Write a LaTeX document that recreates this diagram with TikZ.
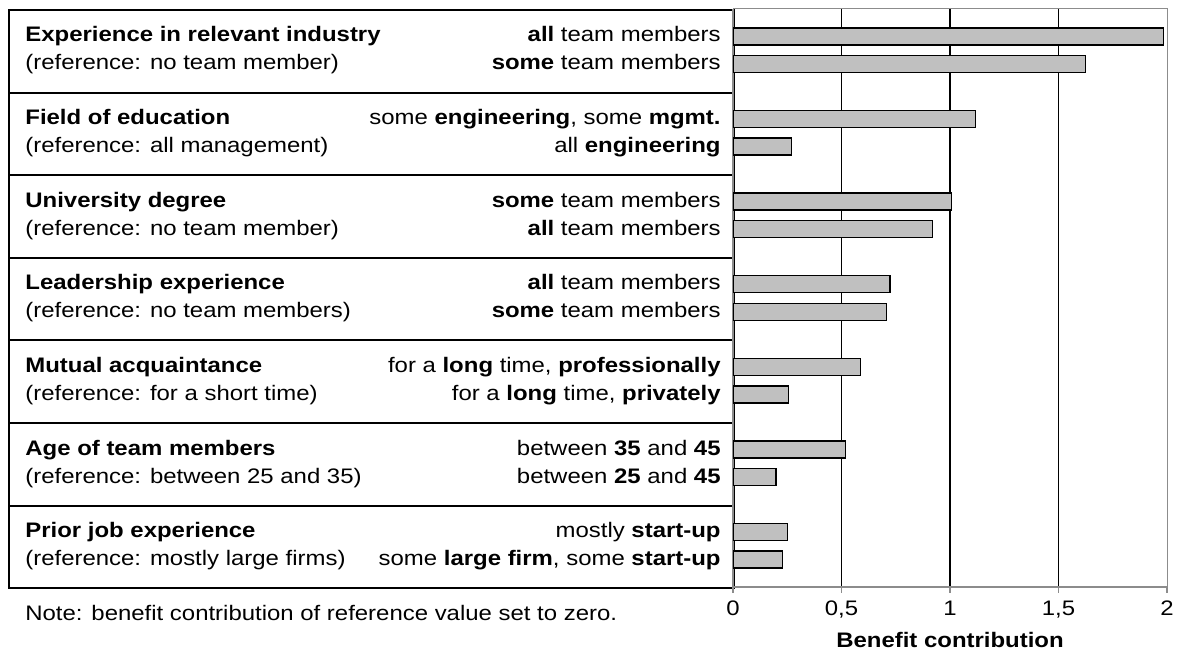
\documentclass[tikz,border=0pt]{standalone}
\usepackage{fontspec}
\setmainfont{Liberation Sans}[FakeStretch=1.14]
\usepackage{tikz}
\definecolor{barfill}{HTML}{C0C0C0}
\definecolor{axisgray}{HTML}{8C8C8C}
\newcommand{\contrib}[2]{ node[benefitbar, minimum width = {#1*108.5pt}, name={#2}] {}}
\tikzset{benefitbar/.style={rectangle, draw, fill=barfill, anchor=west,
  inner sep=0pt, minimum height = 8.5pt, line width = .7pt}}
\tikzset{factorrow/.style={rectangle, draw, line width = 1pt, anchor=north west,
  inner sep=0pt, minimum width = 362.5pt, minimum height = 41.3pt}}
\tikzset{txt/.style={inner sep=0pt, font=\fontsize{10.5}{12}\selectfont}}
\tikzset{head/.style={txt, anchor=base west, font=\fontsize{10.5}{12}\selectfont\bfseries}}
\tikzset{refl/.style={txt, anchor=base west}}
\tikzset{level/.style={txt, anchor=base east}}
\tikzset{ticklabel/.style={txt, anchor=base}}

\begin{document}
\begin{tikzpicture}[x=0.5pt, y=-0.5pt]
  \useasboundingbox (0,0) rectangle (1178,652);

  % table rows
  \node[factorrow] (factor1) at (8,9) {};
  \node[factorrow] (factor2) at (8,91.6) {};
  \node[factorrow] (factor3) at (8,174.2) {};
  \node[factorrow] (factor4) at (8,256.8) {};
  \node[factorrow] (factor5) at (8,339.4) {};
  \node[factorrow] (factor6) at (8,422) {};
  \node[factorrow] (factor7) at (8,504.6) {};

  \node[head] (head1) at (25,42) {Experience in relevant industry};
  \node[refl] (ref1) at (25,70) {(reference: no team member)};
  \node[level] (lvl1a) at (721,42) {\textbf{all} team members};
  \node[level] (lvl1b) at (721,70) {\textbf{some} team members};

  \node[head] (head2) at (25,124.6) {Field of education};
  \node[refl] (ref2) at (25,152.6) {(reference: all management)};
  \node[level] (lvl2a) at (721,124.6) {some \textbf{engineering}, some \textbf{mgmt.}};
  \node[level] (lvl2b) at (721,152.6) {all \textbf{engineering}};

  \node[head] (head3) at (25,207.2) {University degree};
  \node[refl] (ref3) at (25,235.2) {(reference: no team member)};
  \node[level] (lvl3a) at (721,207.2) {\textbf{some} team members};
  \node[level] (lvl3b) at (721,235.2) {\textbf{all} team members};

  \node[head] (head4) at (25,289.8) {Leadership experience};
  \node[refl] (ref4) at (25,317.8) {(reference: no team members)};
  \node[level] (lvl4a) at (721,289.8) {\textbf{all} team members};
  \node[level] (lvl4b) at (721,317.8) {\textbf{some} team members};

  \node[head] (head5) at (25,372.4) {Mutual acquaintance};
  \node[refl] (ref5) at (25,400.4) {(reference: for a short time)};
  \node[level] (lvl5a) at (721,372.4) {for a \textbf{long} time, \textbf{professionally}};
  \node[level] (lvl5b) at (721,400.4) {for a \textbf{long} time, \textbf{privately}};

  \node[head] (head6) at (25,455) {Age of team members};
  \node[refl] (ref6) at (25,483) {(reference: between 25 and 35)};
  \node[level] (lvl6a) at (721,455) {between \textbf{35} and \textbf{45}};
  \node[level] (lvl6b) at (721,483) {between \textbf{25} and \textbf{45}};

  \node[head] (head7) at (25,537.6) {Prior job experience};
  \node[refl] (ref7) at (25,565.6) {(reference: mostly large firms)};
  \node[level] (lvl7a) at (721,537.6) {mostly \textbf{start-up}};
  \node[level] (lvl7b) at (721,565.6) {some \textbf{large firm}, some \textbf{start-up}};

  \node[refl] (note) at (25,620) {Note: benefit contribution of reference value set to zero.};

  % grid and frame
  \draw[line width=.6pt] (841.5,9) -- (841.5,587);
  \draw[line width=.6pt] (950,9) -- (950,587);
  \draw[line width=.6pt] (1058.5,9) -- (1058.5,587);
  \draw[axisgray, line width=.5pt] (733,9) -- (1167,9) -- (1167,587);
  \draw[axisgray, line width=.6pt] (733,9) -- (733,593);
  \draw[axisgray, line width=.6pt] (733,587) -- (1167,587);
  \draw[axisgray, line width=.6pt] (841.5,587) -- (841.5,593);
  \draw[axisgray, line width=.6pt] (950,587) -- (950,593);
  \draw[axisgray, line width=.6pt] (1058.5,587) -- (1058.5,593);
  \draw[axisgray, line width=.6pt] (1167,587) -- (1167,593);

  \node[ticklabel] (tick0) at (733,615) {0};
  \node[ticklabel] (tick1) at (841.5,615) {0,5};
  \node[ticklabel] (tick2) at (950,615) {1};
  \node[ticklabel] (tick3) at (1058.5,615) {1,5};
  \node[ticklabel] (tick4) at (1167,615) {2};
  \node[ticklabel, font=\fontsize{10.5}{12}\selectfont\bfseries] (axtitle) at (950,647) {Benefit contribution};

  % bars
  \draw (733,36.5) \contrib{1.98}{bar1a};
  \draw (733,64) \contrib{1.62}{bar1b};
  \draw (733,119.1) \contrib{1.115}{bar2a};
  \draw (733,146.6) \contrib{0.267}{bar2b};
  \draw (733,201.7) \contrib{1.005}{bar3a};
  \draw (733,229.2) \contrib{0.917}{bar3b};
  \draw (733,284.3) \contrib{0.72}{bar4a};
  \draw (733,311.8) \contrib{0.705}{bar4b};
  \draw (733,366.9) \contrib{0.585}{bar5a};
  \draw (733,394.4) \contrib{0.253}{bar5b};
  \draw (733,449.5) \contrib{0.516}{bar6a};
  \draw (733,477) \contrib{0.194}{bar6b};
  \draw (733,532.1) \contrib{0.249}{bar7a};
  \draw (733,559.6) \contrib{0.226}{bar7b};

\end{tikzpicture}
\end{document}
